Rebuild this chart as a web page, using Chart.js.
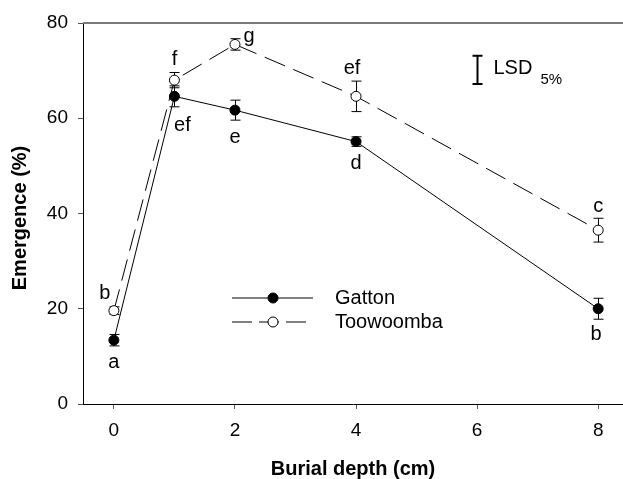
<!DOCTYPE html>
<html>
<head>
<meta charset="utf-8">
<script src="https://cdn.jsdelivr.net/npm/chart.js@4/dist/chart.umd.min.js"></script>
<style>
  body { margin: 0; background: #fff; }
  canvas { display: block; }
</style>
</head>
<body>
<canvas id="emergencia" width="623" height="479"></canvas>
<script>
// profundidad de siembra (cm) y emergencia media (%) por sitio
const depths = [0, 1, 2, 4, 8];
const gatton = [13.4, 64.6, 61.7, 55.1, 20.0];
const toowoomba = [19.6, 68.0, 75.5, 64.6, 36.5];
const gattonErr = [1.2, 2.2, 2.1, 1.0, 2.2];
const toowoombaErr = [0.8, 1.6, 1.2, 3.2, 2.5];
const gattonLetters = ['a', 'ef', 'e', 'd', 'b'];
const toowoombaLetters = ['b', 'f', 'g', 'ef', 'c'];
const xTicks = [0, 2, 4, 6, 8];
const yTicks = [0, 20, 40, 60, 80];
const lsdValue = 5.9;
const lsdDepth = 6.0;
const lsdCentre = 70.15;

const FONT = '"Liberation Sans", Arial, sans-serif';
const DASH = [22, 9];

// desplazamiento de cada letra respecto al punto (px)
const gattonOffsets = [[0, 22], [8, 29], [0, 27], [0, 22], [-2, 26]];
const toowoombaOffsets = [[-9, -17], [0, -21], [14, -8], [-4, -28], [0, -24]];

const canvas = document.getElementById('emergencia');

const extras = {
  id: 'extras',
  beforeDatasetsDraw(chart) {
    const ctx = chart.ctx;
    const xs = chart.scales.x, ys = chart.scales.y;
    const area = chart.chartArea;

    // linea superior gris
    ctx.save();
    ctx.strokeStyle = '#7a7a7a';
    ctx.lineWidth = 2;
    ctx.beginPath();
    ctx.moveTo(area.left, area.top);
    ctx.lineTo(chart.width, area.top);
    ctx.stroke();

    // barras de error
    ctx.strokeStyle = '#000';
    ctx.lineWidth = 1;
    const bars = (vals, errs) => {
      vals.forEach((v, i) => {
        const px = Math.round(xs.getPixelForValue(depths[i])) + 0.5;
        const top = ys.getPixelForValue(v + errs[i]);
        const bot = ys.getPixelForValue(v - errs[i]);
        ctx.beginPath();
        ctx.moveTo(px, top); ctx.lineTo(px, bot);
        ctx.moveTo(px - 5, top); ctx.lineTo(px + 5, top);
        ctx.moveTo(px - 5, bot); ctx.lineTo(px + 5, bot);
        ctx.stroke();
      });
    };
    bars(toowoomba, toowoombaErr);
    bars(gatton, gattonErr);
    ctx.restore();
  },
  afterDatasetsDraw(chart) {
    const ctx = chart.ctx;
    const xs = chart.scales.x, ys = chart.scales.y;
    const area = chart.chartArea;

    ctx.save();
    ctx.fillStyle = '#000';
    ctx.font = '20px ' + FONT;
    ctx.textAlign = 'center';
    ctx.textBaseline = 'middle';

    // letras de separacion de medias
    const letters = (vals, labs, offs) => {
      vals.forEach((v, i) => {
        const px = xs.getPixelForValue(depths[i]);
        const py = ys.getPixelForValue(v);
        ctx.fillText(labs[i], px + offs[i][0], py + offs[i][1]);
      });
    };
    letters(gatton, gattonLetters, gattonOffsets);
    letters(toowoomba, toowoombaLetters, toowoombaOffsets);

    // LSD 5%
    const lx = Math.round(xs.getPixelForValue(lsdDepth)) + 0.5;
    const lt = ys.getPixelForValue(lsdCentre + lsdValue / 2);
    const lb = ys.getPixelForValue(lsdCentre - lsdValue / 2);
    ctx.strokeStyle = '#000';
    ctx.lineWidth = 2;
    ctx.beginPath();
    ctx.moveTo(lx, lt); ctx.lineTo(lx, lb);
    ctx.moveTo(lx - 5, lt); ctx.lineTo(lx + 5, lt);
    ctx.moveTo(lx - 5, lb); ctx.lineTo(lx + 5, lb);
    ctx.stroke();
    ctx.textAlign = 'left';
    ctx.fillText('LSD', lx + 16, (lt + lb) / 2 - 1);
    ctx.font = '15px ' + FONT;
    ctx.fillText('5%', lx + 63, (lt + lb) / 2 + 10);

    // leyenda
    const legend = (y, dashed, filled, label) => {
      ctx.strokeStyle = '#000';
      ctx.lineWidth = 1;
      ctx.setLineDash(dashed ? [20, 7] : []);
      ctx.beginPath();
      ctx.moveTo(area.left + 149, y);
      ctx.lineTo(area.left + 230, y);
      ctx.stroke();
      ctx.setLineDash([]);
      ctx.beginPath();
      ctx.arc(area.left + 190, y, 5, 0, Math.PI * 2);
      ctx.fillStyle = filled ? '#000' : '#fff';
      ctx.fill();
      ctx.stroke();
      ctx.fillStyle = '#000';
      ctx.font = '20px ' + FONT;
      ctx.fillText(label, area.left + 252, y);
    };
    legend(area.top + 275, false, true, 'Gatton');
    legend(area.top + 299, true, false, 'Toowoomba');

    // titulos de ejes
    ctx.font = 'bold 20px ' + FONT;
    ctx.textAlign = 'center';
    ctx.fillText('Burial depth (cm)', (area.left + area.right) / 2, 469);
    ctx.translate(20, 218);
    ctx.rotate(-Math.PI / 2);
    ctx.fillText('Emergence (%)', 0, 0);
    ctx.restore();
  }
};

new Chart(canvas.getContext('2d'), {
  type: 'scatter',
  data: {
    datasets: [
      {
        label: 'Toowoomba',
        data: depths.map((d, i) => ({ x: d, y: toowoomba[i] })),
        showLine: true,
        borderColor: '#000',
        borderWidth: 1,
        borderDash: DASH,
        pointRadius: 5,
        pointBackgroundColor: '#fff',
        pointBorderColor: '#000',
        pointBorderWidth: 1
      },
      {
        label: 'Gatton',
        data: depths.map((d, i) => ({ x: d, y: gatton[i] })),
        showLine: true,
        borderColor: '#000',
        borderWidth: 1,
        pointRadius: 5,
        pointBackgroundColor: '#000',
        pointBorderColor: '#000',
        pointBorderWidth: 1
      }
    ]
  },
  options: {
    responsive: false,
    animation: false,
    layout: { autoPadding: false, padding: { top: 23, right: 0, left: 0, bottom: 0 } },
    scales: {
      x: {
        type: 'linear',
        min: -0.51,
        max: 8.41,
        afterFit: s => { s.height = 75; s.paddingRight = 0; s.paddingLeft = 0; },
        afterBuildTicks: s => { s.ticks = xTicks.map(v => ({ value: v })); },
        ticks: { color: '#000', font: { family: FONT, size: 19 }, padding: 10, maxRotation: 0 },
        grid: { drawOnChartArea: false, drawTicks: true, tickLength: 5, color: '#555' },
        border: { display: true, color: '#000', width: 1 }
      },
      y: {
        min: 0,
        max: 80,
        afterFit: s => { s.width = 83; s.paddingTop = 0; s.paddingBottom = 0; },
        afterBuildTicks: s => { s.ticks = yTicks.map(v => ({ value: v })); },
        ticks: { color: '#000', font: { family: FONT, size: 19 }, padding: 10 },
        grid: { drawOnChartArea: false, drawTicks: true, tickLength: 5, color: '#555' },
        border: { display: true, color: '#000', width: 1 }
      }
    },
    plugins: {
      legend: { display: false },
      tooltip: { enabled: false }
    }
  },
  plugins: [extras]
});
</script>
</body>
</html>
